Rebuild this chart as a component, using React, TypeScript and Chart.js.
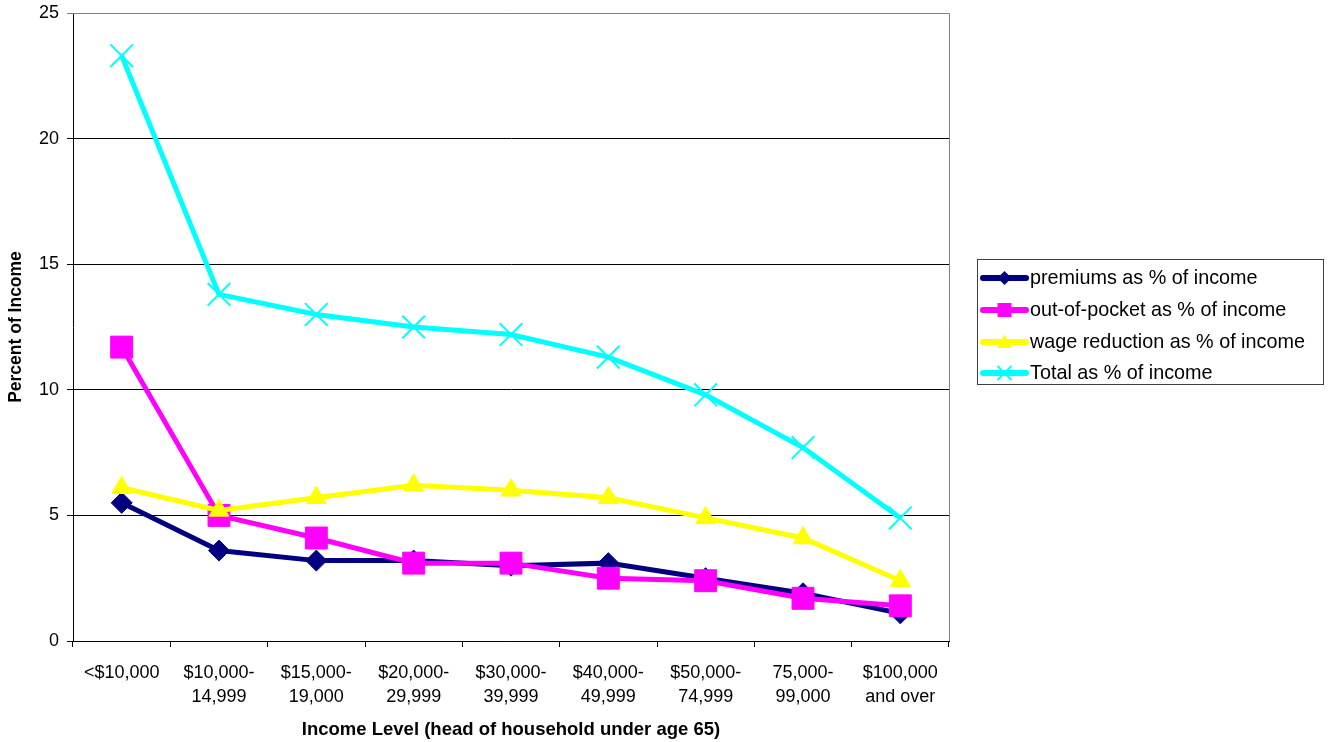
import React, { useEffect, useRef } from "react";
import { Chart, registerables } from "chart.js";

Chart.register(...registerables);

const categories: (string | string[])[] = [
  "<$10,000",
  ["$10,000-", "14,999"],
  ["$15,000-", "19,000"],
  ["$20,000-", "29,999"],
  ["$30,000-", "39,999"],
  ["$40,000-", "49,999"],
  ["$50,000-", "74,999"],
  ["75,000-", "99,000"],
  ["$100,000", "and over"],
];

const premiums = [5.5, 3.6, 3.2, 3.2, 3.0, 3.1, 2.5, 1.9, 1.1];
const outOfPocket = [11.7, 5.0, 4.1, 3.1, 3.1, 2.5, 2.4, 1.7, 1.4];
const wageReduction = [6.1, 5.2, 5.7, 6.2, 6.0, 5.7, 4.9, 4.1, 2.4];
const total = [23.3, 13.8, 13.0, 12.5, 12.2, 11.3, 9.8, 7.7, 4.9];

const yTicks = [0, 5, 10, 15, 20, 25];

const FONT = "'Liberation Sans', Arial, Helvetica, sans-serif";

type Item = {
  label: string;
  color: string;
  style: "rectRot" | "rect" | "triangle" | "crossRot";
  radius: number;
  legendSize: number;
  pointBorder: number;
};

const items: Item[] = [
  { label: "premiums as % of income", color: "#000080", style: "rectRot", radius: 10.5, legendSize: 7, pointBorder: 1 },
  { label: "out-of-pocket as % of income", color: "#FF00FF", style: "rect", radius: 15.5, legendSize: 7, pointBorder: 1 },
  { label: "wage reduction as % of income", color: "#FFFF00", style: "triangle", radius: 11.5, legendSize: 7.5, pointBorder: 1 },
  { label: "Total as % of income", color: "#00FFFF", style: "crossRot", radius: 16, legendSize: 7, pointBorder: 2 },
];

const seriesValues = [premiums, outOfPocket, wageReduction, total];

// Small marker glyphs used in the legend swatches.
function drawMarker(ctx: CanvasRenderingContext2D, style: Item["style"], x: number, y: number, s: number) {
  ctx.beginPath();
  if (style === "rectRot") {
    ctx.moveTo(x, y - s);
    ctx.lineTo(x + s, y);
    ctx.lineTo(x, y + s);
    ctx.lineTo(x - s, y);
    ctx.closePath();
    ctx.fill();
  } else if (style === "rect") {
    ctx.rect(x - s, y - s, 2 * s, 2 * s);
    ctx.fill();
  } else if (style === "triangle") {
    ctx.moveTo(x, y - s);
    ctx.lineTo(x + s, y + s * 0.8);
    ctx.lineTo(x - s, y + s * 0.8);
    ctx.closePath();
    ctx.fill();
  } else {
    ctx.lineWidth = 2;
    ctx.moveTo(x - s, y - s);
    ctx.lineTo(x + s, y + s);
    ctx.moveTo(x + s, y - s);
    ctx.lineTo(x - s, y + s);
    ctx.stroke();
  }
}

// Plot frame (gray top/right edges) and the boxed legend on the right.
const framePlugin = {
  id: "frameAndLegend",
  afterDraw(chart: Chart) {
    const { ctx, chartArea } = chart;
    ctx.save();
    ctx.strokeStyle = "#808080";
    ctx.lineWidth = 1;
    ctx.beginPath();
    ctx.moveTo(chartArea.left, chartArea.top + 0.5);
    ctx.lineTo(chartArea.right + 0.5, chartArea.top + 0.5);
    ctx.lineTo(chartArea.right + 0.5, chartArea.bottom);
    ctx.stroke();

    // legend box
    const bx = 977.5, by = 259.5, bw = 346, bh = 125;
    ctx.fillStyle = "#ffffff";
    ctx.fillRect(bx, by, bw, bh);
    ctx.strokeStyle = "#404040";
    ctx.lineWidth = 1;
    ctx.strokeRect(bx, by, bw, bh);

    const rows = [278, 310, 342, 373];
    items.forEach((it, i) => {
      const y = rows[i];
      ctx.strokeStyle = it.color;
      ctx.lineWidth = 6;
      ctx.lineCap = "round";
      ctx.beginPath();
      ctx.moveTo(983, y);
      ctx.lineTo(1026, y);
      ctx.stroke();
      ctx.lineCap = "butt";
      ctx.fillStyle = it.color;
      ctx.strokeStyle = it.color;
      drawMarker(ctx, it.style, 1004.5, y, it.legendSize);
      ctx.fillStyle = "#000";
      ctx.font = `19.8px ${FONT}`;
      ctx.textAlign = "left";
      ctx.textBaseline = "middle";
      ctx.fillText(it.label, 1030, y + 1);
    });
    ctx.restore();
  },
};

export default function App() {
  const ref = useRef<HTMLCanvasElement>(null);

  useEffect(() => {
    if (!ref.current) return;
    const chart = new Chart(ref.current, {
      type: "line",
      data: {
        labels: categories as any,
        datasets: items.map((it, i) => ({
          label: it.label,
          data: seriesValues[i],
          borderColor: it.color,
          backgroundColor: it.color,
          borderWidth: 5,
          pointStyle: it.style,
          pointRadius: it.radius,
          pointHoverRadius: it.radius,
          pointBorderWidth: it.pointBorder,
          pointBackgroundColor: it.color,
          pointBorderColor: it.color,
          tension: 0,
          fill: false,
          clip: false as any,
          order: items.length - i,
        })),
      },
      options: {
        responsive: false,
        animation: false,
        events: [],
        layout: { autoPadding: false, padding: { left: 0, top: 13, right: 380, bottom: 0 } },
        plugins: {
          legend: { display: false },
          tooltip: { enabled: false },
        },
        scales: {
          x: {
            type: "category",
            offset: true,
            grid: {
              offset: true,
              drawOnChartArea: false,
              drawTicks: true,
              tickLength: 6,
              color: "#000",
            },
            border: { color: "#000", width: 1 },
            ticks: {
              color: "#000",
              font: { family: FONT, size: 18, lineHeight: 1.33 },
              padding: 14,
              maxRotation: 0,
              autoSkip: false,
            },
            title: {
              display: true,
              text: "Income Level (head of household under age 65)",
              color: "#000",
              font: { family: FONT, size: 18.5, weight: "bold" },
              padding: { top: 0, bottom: 1 },
            },
            afterFit: (s: any) => {
              s.height = 101;
              s.paddingLeft = 0;
              s.paddingRight = 0;
            },
          },
          y: {
            min: 0,
            max: 25,
            afterBuildTicks: (s: any) => {
              s.ticks = yTicks.map((v) => ({ value: v }));
            },
            grid: {
              color: (c: any) => (c.tick && c.tick.value === 25 ? "#808080" : "#000"),
              lineWidth: 1,
              drawTicks: true,
              tickLength: 6,
            },
            border: { color: "#000", width: 1 },
            ticks: {
              color: "#000",
              font: { family: FONT, size: 18 },
              padding: 8,
            },
            title: {
              display: true,
              text: "Percent of Income",
              color: "#000",
              font: { family: FONT, size: 17.5, weight: "bold" },
              padding: { top: 6, bottom: 0 },
            },
            afterFit: (s: any) => {
              s.width = 73;
              s.paddingTop = 0;
              s.paddingBottom = 0;
            },
          },
        },
      },
      plugins: [framePlugin],
    });
    return () => chart.destroy();
  }, []);

  return (
    <div style={{ position: "absolute", left: 0, top: 0, width: 1329, height: 742, background: "#fff" }}>
      <canvas ref={ref} width={1329} height={742} />
    </div>
  );
}
